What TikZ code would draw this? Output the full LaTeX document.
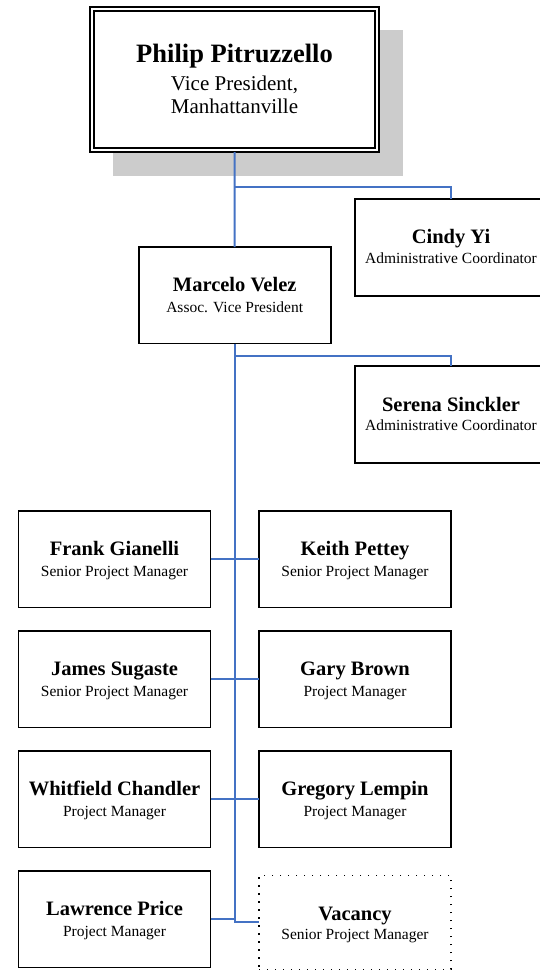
\documentclass[tikz,border=0pt]{standalone}
\usepackage{fontspec}
\setmainfont{Liberation Serif}
\definecolor{connblue}{HTML}{4472C4}
\definecolor{shadowgray}{HTML}{CCCCCC}
\tikzset{
  box/.style={draw=black, line width=1.8pt, fill=white, minimum width=192pt, minimum height=96.5pt, inner sep=0pt, outer sep=0pt},
  vacbox/.style={draw=black, line width=1.2pt, dash pattern=on 1.2pt off 6.8pt, minimum width=192pt, minimum height=94pt, inner sep=0pt, outer sep=0pt},
  topbox/.style={draw=black, line width=1.6pt, fill=white, minimum width=289pt, minimum height=145pt, inner sep=0pt, outer sep=0pt},
  nm/.style={anchor=base, inner sep=0pt, font=\fontsize{20.5}{24}\selectfont\bfseries},
  ti/.style={anchor=base, inner sep=0pt, font=\fontsize{15.5}{18}\selectfont},
  bignm/.style={anchor=base, inner sep=0pt, font=\fontsize{26.5}{30}\selectfont\bfseries},
  bigti/.style={anchor=base, inner sep=0pt, font=\fontsize{21}{24}\selectfont},
  conn/.style={draw=connblue, line width=2pt},
}
\newcommand\orgperson[7]{% id, x, y, name, title, name offset, title offset
  \node[box] (#1) at (#2,#3) {};
  \node[nm] (#1-n) at (#2,{#3+#6}) {#4};
  \node[ti] (#1-t) at (#2,{#3+#7}) {#5};
}
\begin{document}
\begin{tikzpicture}[x=1pt,y=-1pt]
\useasboundingbox (0,0) rectangle (540,970);
\clip (0,0) rectangle (540,970);

% top box with shadow
\fill[shadowgray] (113,30) rectangle (403,176);
\node[topbox] (top) at (234.5,79.5) {};
\draw[line width=1.1pt] ([shift={(4,4)}]top.north west) rectangle ([shift={(-4,-4)}]top.south east);
\node[bignm] (top-n) at (234.5,62) {Philip Pitruzzello};
\node[bigti] (top-t1) at (234.5,90) {Vice President,};
\node[bigti] (top-t2) at (234.5,113.5) {Manhattanville};

% connectors (drawn under the boxes)
\coordinate (j1) at (234.6,187);
\coordinate (j2) at (234.6,355.5);

% second tier
\orgperson{cindy}{451}{247.5}{Cindy Yi}{Administrative Coordinator}{-4}{15.5}
\orgperson{marcelo}{234.7}{295.3}{Marcelo Velez}{Assoc. Vice President}{-3.6}{17}
\orgperson{serena}{451}{414.5}{Serena Sinckler}{Administrative Coordinator}{-3}{15.5}

% staff rows
\orgperson{frank}{114.5}{559.25}{Frank Gianelli}{Senior Project Manager}{-4}{17}
\orgperson{keith}{355}{559.25}{Keith Pettey}{Senior Project Manager}{-4}{17}
\orgperson{james}{114.5}{679.25}{James Sugaste}{Senior Project Manager}{-4}{17}
\orgperson{gary}{355}{679.25}{Gary Brown}{Project Manager}{-4}{17}
\orgperson{whit}{114.5}{799.25}{Whitfield Chandler}{Project Manager}{-4}{17}
\orgperson{greg}{355}{799.25}{Gregory Lempin}{Project Manager}{-4}{17}
\orgperson{lawr}{114.5}{919.25}{Lawrence Price}{Project Manager}{-4}{17}

% vacancy
\node[vacbox] (vac) at (355,922.3) {};
\node[nm] (vac-n) at (355,920.3) {Vacancy};
\node[ti] (vac-t) at (355,939.3) {Senior Project Manager};

\draw[conn] (top.south) -- (marcelo.north);
\draw[conn] (j1) -| (cindy.north);
\draw[conn] (marcelo.south) |- (vac.west);
\draw[conn] (j2) -| (serena.north);
\draw[conn] (frank.east) -- (keith.west);
\draw[conn] (james.east) -- (gary.west);
\draw[conn] (whit.east) -- (greg.west);
\draw[conn] (lawr.east) -- (lawr.east -| marcelo.south);
\end{tikzpicture}
\end{document}
